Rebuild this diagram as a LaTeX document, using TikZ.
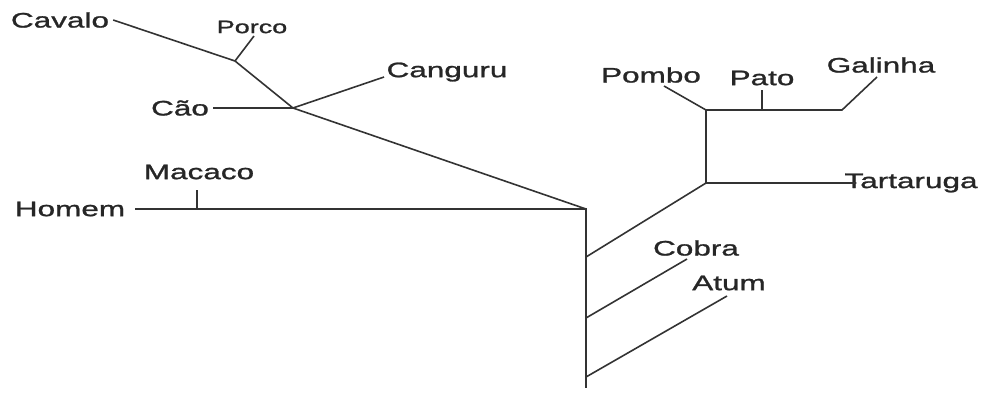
\documentclass[tikz,border=0pt]{standalone}
\usepackage{fontspec}
\setmainfont{Liberation Sans}[FakeStretch=1.5,FakeBold=1.2]
\begin{document}
\begin{tikzpicture}[x=1pt,y=-1pt,
    br/.style={draw=black!80,line width=1.6pt},
    lbl/.style={inner sep=4pt,text=black!85,font=\fontsize{21}{21}\selectfont},
    small/.style={lbl,font=\fontsize{18}{18}\selectfont}]
  \useasboundingbox (0,0) rectangle (983,392);
  \coordinate (j1) at (235,61);
  \coordinate (j2) at (293,108);
  \coordinate (r) at (586,209);
  \coordinate (bot) at (586,388);
  \coordinate (b1) at (586,257);
  \coordinate (b2) at (586,318);
  \coordinate (b3) at (586,377);
  \coordinate (t) at (706,183);
  \coordinate (a) at (706,110);
  \coordinate (g) at (842,110);
  \coordinate (pt) at (762,110);
  \coordinate (mc) at (197,209);
  \coordinate (porcoend) at (254,36);
  \coordinate (cangend) at (384,77);
  \coordinate (macend) at (197,190);
  \coordinate (pomend) at (664,86);
  \coordinate (patoend) at (762,90);
  \coordinate (galend) at (877,77);
  \coordinate (cobend) at (687,259);
  \coordinate (atumend) at (727,296);
  \node[lbl] (cavalo) at (60,20) {Cavalo};
  \node[small] (porco) at (252,27) {Porco};
  \node[lbl] (cao) at (180,108) {Cão};
  \node[lbl] (canguru) at (447,72) {Canguru};
  \node[lbl] (homem) at (70,209) {Homem};
  \node[lbl] (macaco) at (199,172) {Macaco};
  \node[lbl] (pombo) at (651,75) {Pombo};
  \node[lbl] (pato) at (762,78) {Pato};
  \node[lbl] (galinha) at (881,65) {Galinha};
  \node[lbl,inner sep=0pt] (tartaruga) at (911,183) {Tartaruga};
  \node[lbl] (cobra) at (696,248) {Cobra};
  \node[lbl] (atum) at (729,283) {Atum};
  \draw[br] (cavalo.east) -- (j1) -- (j2) -- (r);
  \draw[br] (porcoend) -- (j1);
  \draw[br] (cao.east) -- (j2) -- (cangend);
  \draw[br] ([xshift=6pt]homem.east) -- (r) -- (bot);
  \draw[br] (macend) -- (mc);
  \draw[br] (b1) -- (t) -- ([xshift=12pt]tartaruga.west);
  \draw[br] (t) -- (a) -- (g) -- (galend);
  \draw[br] (a) -- (pomend);
  \draw[br] (pt) -- (patoend);
  \draw[br] (b2) -- (cobend);
  \draw[br] (b3) -- (atumend);
\end{tikzpicture}
\end{document}
